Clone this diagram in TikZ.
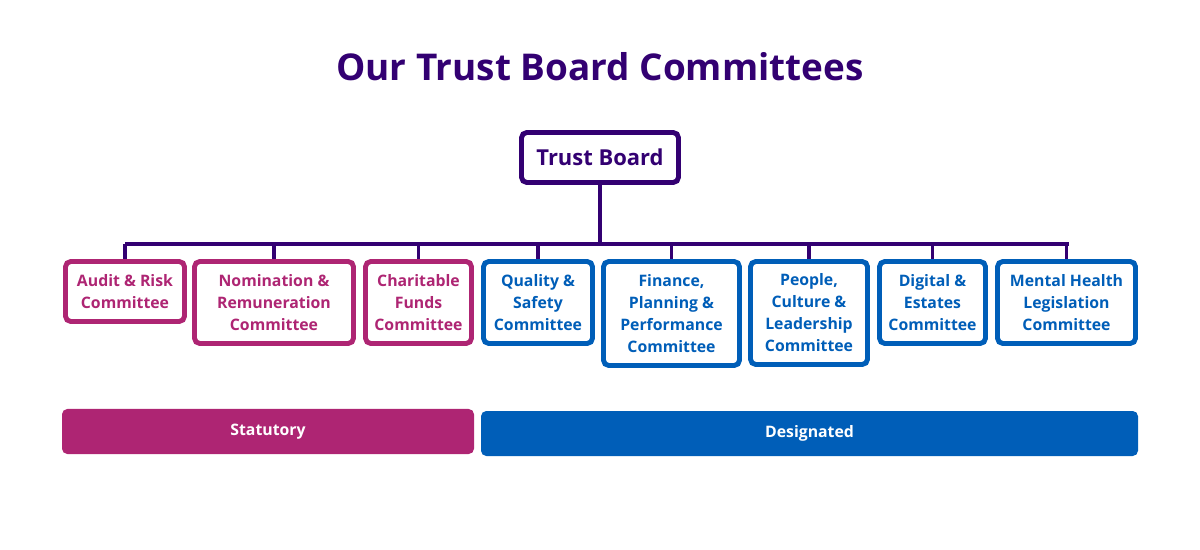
\documentclass[tikz,border=0pt]{standalone}
\usepackage{fontspec}
\setmainfont{Open Sans}
\definecolor{tpurple}{HTML}{330072}
\definecolor{tmag}{HTML}{AE2573}
\definecolor{tblue}{HTML}{005EB8}
\begin{document}
\begin{tikzpicture}[x=0.02cm,y=-0.02cm,
 cbox/.style={draw, line width=2.8pt, rounded corners=3pt, fill=white, align=center, font=\bfseries\fontsize{9}{12.5}\selectfont, inner sep=0pt},
 mbox/.style={cbox, draw=tmag, text=tmag},
 bbox/.style={cbox, draw=tblue, text=tblue},
 conn/.style={tpurple, line width=1.8pt},
 bar/.style={rounded corners=3pt, text=white, font=\bfseries\fontsize{9}{11}\selectfont}]
\useasboundingbox (0,0) rectangle (1200,550);
\node[text=tpurple, font=\bfseries\fontsize{21}{25}\selectfont] (title) at (600,67) {Our Trust Board Committees};
\node[cbox, draw=tpurple, text=tpurple, font=\bfseries\fontsize{12.5}{15}\selectfont, minimum width=157*0.02cm, minimum height=50*0.02cm] (tb) at (600,157.5) {Trust Board};
\coordinate (hub) at (600,244);
\coordinate (hl) at (125,244);
\coordinate (hr) at (1069,244);
\draw[conn] (tb.south) -- (hub);
\draw[conn] (hl) -- (hr);
\foreach \n/\x/\y/\w/\h/\s/\t in {
 a/125/291.5/119/60/mbox/{Audit \& Risk\\Committee},
 b/274/302.5/159/82/mbox/{Nomination \&\\Remuneration\\Committee},
 c/418.5/302.5/106/82/mbox/{Charitable\\Funds\\Committee},
 d/538/302.5/109/82/bbox/{Quality \&\\Safety\\Committee},
 e/671.5/313.5/136/104/bbox/{Finance,\\Planning \&\\Performance\\Committee},
 f/809/313/117/103/bbox/{People,\\Culture \&\\Leadership\\Committee},
 g/932.5/302.5/106/82/bbox/{Digital \&\\Estates\\Committee},
 h/1066.5/302.5/138/82/bbox/{Mental Health\\Legislation\\Committee}}{
 \node[\s, minimum width=\w*0.02cm, minimum height=\h*0.02cm] (\n) at (\x,\y) {\t};
 \coordinate (t\n) at (\x,244);
 \draw[conn] (t\n) -- (\n.north);
}
\node[bar, fill=tmag, minimum width=412*0.02cm, minimum height=45*0.02cm] (stat) at (268,431.5) {Statutory};
\node[bar, fill=tblue, minimum width=657*0.02cm, minimum height=45*0.02cm] (des) at (809.5,433.5) {Designated};
\end{tikzpicture}
\end{document}
